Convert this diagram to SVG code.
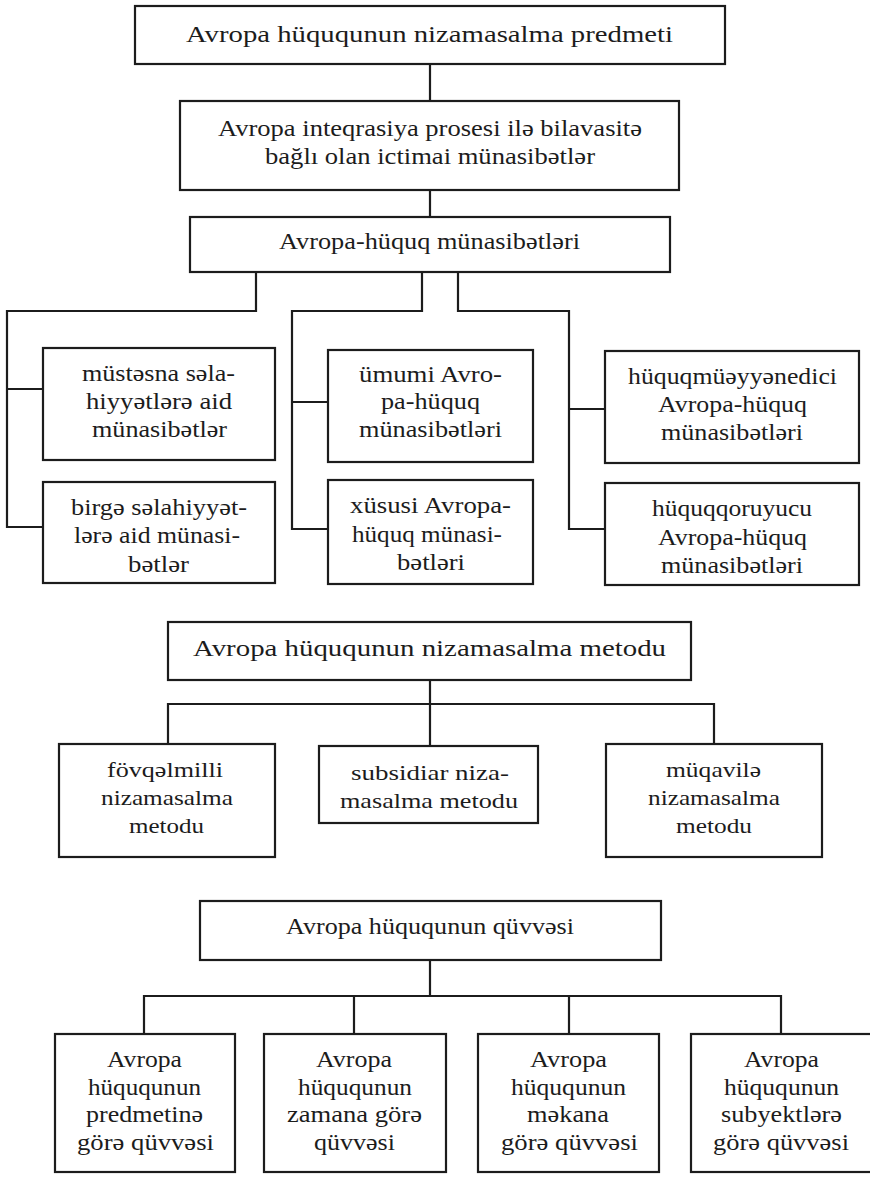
<svg xmlns="http://www.w3.org/2000/svg" width="870" height="1182" viewBox="0 0 870 1182" font-family="'Liberation Serif', 'Times New Roman', serif">
  <style>
    .box { fill: #ffffff; stroke: #1c1c1c; stroke-width: 2.2; }
    .wire { fill: none; stroke: #1c1c1c; stroke-width: 2.2; }
  </style>
  <rect width="870" height="1182" fill="#ffffff"/>

  <!-- connectors -->
  <g id="connectors">
    <path class="wire" d="M430,64 V101 M430,190 V217"/>
    <path class="wire" d="M256,272 V311 H7 V527 H43 M7,389 H43"/>
    <path class="wire" d="M422,272 V311 H292 V529 H328 M292,402 H328"/>
    <path class="wire" d="M458,272 V311 H569 V529 H605 M569,409 H605"/>
    <path class="wire" d="M430,680 V746 M168,744 V704 H714 V744"/>
    <path class="wire" d="M430,960 V996 M144,1034 V996 H781 V1034 M354,996 V1034 M569,996 V1034"/>
  </g>

  <!-- subject of regulation -->
  <g id="predmet" font-size="23" fill="#1c1c1c">
    <rect class="box" x="135" y="6" width="590" height="58"/>
    <text x="186" y="42" textLength="487" lengthAdjust="spacingAndGlyphs">Avropa hüququnun nizamasalma predmeti</text>
  </g>
  <g id="integration" font-size="23" fill="#1c1c1c">
    <rect class="box" x="180" y="101" width="499" height="89"/>
    <text x="218" y="136" textLength="424" lengthAdjust="spacingAndGlyphs">Avropa inteqrasiya prosesi ilə bilavasitə</text>
    <text x="265" y="164" textLength="330" lengthAdjust="spacingAndGlyphs">bağlı olan ictimai münasibətlər</text>
  </g>
  <g id="relations" font-size="23" fill="#1c1c1c">
    <rect class="box" x="190" y="217" width="480" height="55"/>
    <text x="279" y="249" textLength="301" lengthAdjust="spacingAndGlyphs">Avropa-hüquq münasibətləri</text>
  </g>

  <g id="exclusive" font-size="23" fill="#1c1c1c">
    <rect class="box" x="43" y="348" width="232" height="112"/>
    <text x="82" y="381" textLength="153" lengthAdjust="spacingAndGlyphs">müstəsna səla-</text>
    <text x="86" y="409" textLength="146" lengthAdjust="spacingAndGlyphs">hiyyətlərə aid</text>
    <text x="92" y="437" textLength="135" lengthAdjust="spacingAndGlyphs">münasibətlər</text>
  </g>
  <g id="shared" font-size="23" fill="#1c1c1c">
    <rect class="box" x="43" y="482" width="232" height="101"/>
    <text x="71" y="515" textLength="176" lengthAdjust="spacingAndGlyphs">birgə səlahiyyət-</text>
    <text x="74" y="543" textLength="166" lengthAdjust="spacingAndGlyphs">lərə aid münasi-</text>
    <text x="128" y="572" textLength="61" lengthAdjust="spacingAndGlyphs">bətlər</text>
  </g>
  <g id="general" font-size="23" fill="#1c1c1c">
    <rect class="box" x="328" y="350" width="205" height="112"/>
    <text x="359" y="382" textLength="143" lengthAdjust="spacingAndGlyphs">ümumi Avro-</text>
    <text x="381" y="409" textLength="99" lengthAdjust="spacingAndGlyphs">pa-hüquq</text>
    <text x="359" y="437" textLength="143" lengthAdjust="spacingAndGlyphs">münasibətləri</text>
  </g>
  <g id="special" font-size="23" fill="#1c1c1c">
    <rect class="box" x="328" y="480" width="205" height="104"/>
    <text x="350" y="513" textLength="161" lengthAdjust="spacingAndGlyphs">xüsusi Avropa-</text>
    <text x="352" y="542" textLength="150" lengthAdjust="spacingAndGlyphs">hüquq münasi-</text>
    <text x="397" y="570" textLength="68" lengthAdjust="spacingAndGlyphs">bətləri</text>
  </g>
  <g id="lawmaking" font-size="23" fill="#1c1c1c">
    <rect class="box" x="605" y="351" width="254" height="112"/>
    <text x="628" y="384" textLength="209" lengthAdjust="spacingAndGlyphs">hüquqmüəyyənedici</text>
    <text x="658" y="412" textLength="149" lengthAdjust="spacingAndGlyphs">Avropa-hüquq</text>
    <text x="661" y="440" textLength="142" lengthAdjust="spacingAndGlyphs">münasibətləri</text>
  </g>
  <g id="protective" font-size="23" fill="#1c1c1c">
    <rect class="box" x="605" y="483" width="254" height="102"/>
    <text x="652" y="516" textLength="160" lengthAdjust="spacingAndGlyphs">hüquqqoruyucu</text>
    <text x="658" y="545" textLength="149" lengthAdjust="spacingAndGlyphs">Avropa-hüquq</text>
    <text x="661" y="573" textLength="142" lengthAdjust="spacingAndGlyphs">münasibətləri</text>
  </g>

  <!-- method of regulation -->
  <g id="metod" font-size="23" fill="#1c1c1c">
    <rect class="box" x="168" y="622" width="523" height="58"/>
    <text x="193" y="656" textLength="473" lengthAdjust="spacingAndGlyphs">Avropa hüququnun nizamasalma metodu</text>
  </g>
  <g id="supranational" font-size="22" fill="#1c1c1c">
    <rect class="box" x="59" y="744" width="216" height="113"/>
    <text x="107" y="777" textLength="116" lengthAdjust="spacingAndGlyphs">fövqəlmilli</text>
    <text x="101" y="805" textLength="132" lengthAdjust="spacingAndGlyphs">nizamasalma</text>
    <text x="129" y="833" textLength="75" lengthAdjust="spacingAndGlyphs">metodu</text>
  </g>
  <g id="subsidiary" font-size="22" fill="#1c1c1c">
    <rect class="box" x="319" y="746" width="219" height="77"/>
    <text x="351" y="780" textLength="158" lengthAdjust="spacingAndGlyphs">subsidiar niza-</text>
    <text x="340" y="808" textLength="178" lengthAdjust="spacingAndGlyphs">masalma metodu</text>
  </g>
  <g id="contractual" font-size="22" fill="#1c1c1c">
    <rect class="box" x="606" y="744" width="216" height="113"/>
    <text x="666" y="777" textLength="95" lengthAdjust="spacingAndGlyphs">müqavilə</text>
    <text x="648" y="805" textLength="132" lengthAdjust="spacingAndGlyphs">nizamasalma</text>
    <text x="676" y="833" textLength="76" lengthAdjust="spacingAndGlyphs">metodu</text>
  </g>

  <!-- force of law -->
  <g id="quvve" font-size="23" fill="#1c1c1c">
    <rect class="box" x="200" y="901" width="461" height="59"/>
    <text x="286" y="934" textLength="288" lengthAdjust="spacingAndGlyphs">Avropa hüququnun qüvvəsi</text>
  </g>
  <g id="by-subject" font-size="23" fill="#1c1c1c">
    <rect class="box" x="55" y="1034" width="180" height="138"/>
    <text x="107" y="1067" textLength="75" lengthAdjust="spacingAndGlyphs">Avropa</text>
    <text x="88" y="1095" textLength="113" lengthAdjust="spacingAndGlyphs">hüququnun</text>
    <text x="86" y="1122" textLength="117" lengthAdjust="spacingAndGlyphs">predmetinə</text>
    <text x="77" y="1150" textLength="137" lengthAdjust="spacingAndGlyphs">görə qüvvəsi</text>
  </g>
  <g id="by-time" font-size="23" fill="#1c1c1c">
    <rect class="box" x="264" y="1034" width="182" height="138"/>
    <text x="316" y="1067" textLength="76" lengthAdjust="spacingAndGlyphs">Avropa</text>
    <text x="298" y="1095" textLength="114" lengthAdjust="spacingAndGlyphs">hüququnun</text>
    <text x="287" y="1122" textLength="135" lengthAdjust="spacingAndGlyphs">zamana görə</text>
    <text x="314" y="1150" textLength="81" lengthAdjust="spacingAndGlyphs">qüvvəsi</text>
  </g>
  <g id="by-space" font-size="23" fill="#1c1c1c">
    <rect class="box" x="478" y="1034" width="181" height="138"/>
    <text x="530" y="1067" textLength="77" lengthAdjust="spacingAndGlyphs">Avropa</text>
    <text x="511" y="1095" textLength="115" lengthAdjust="spacingAndGlyphs">hüququnun</text>
    <text x="527" y="1122" textLength="82" lengthAdjust="spacingAndGlyphs">məkana</text>
    <text x="501" y="1150" textLength="137" lengthAdjust="spacingAndGlyphs">görə qüvvəsi</text>
  </g>
  <g id="by-persons" font-size="23" fill="#1c1c1c">
    <rect class="box" x="691" y="1034" width="182" height="138"/>
    <text x="744" y="1067" textLength="75" lengthAdjust="spacingAndGlyphs">Avropa</text>
    <text x="724" y="1095" textLength="115" lengthAdjust="spacingAndGlyphs">hüququnun</text>
    <text x="721" y="1122" textLength="121" lengthAdjust="spacingAndGlyphs">subyektlərə</text>
    <text x="713" y="1150" textLength="136" lengthAdjust="spacingAndGlyphs">görə qüvvəsi</text>
  </g>
</svg>
